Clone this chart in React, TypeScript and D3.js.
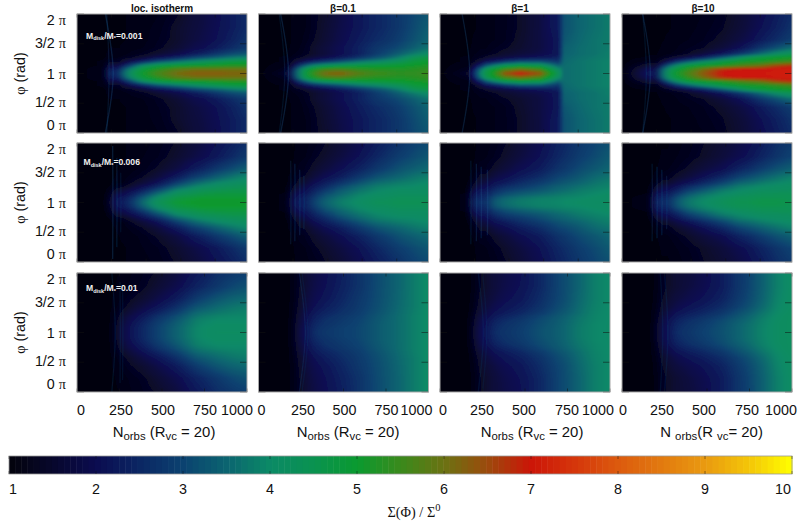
import React, { useMemo } from "react";
import * as d3 from "d3";

// ---- data -----------------------------------------------------------------
const titles = ["loc. isotherm", "β=0.1", "β=1", "β=10"];
const massLabels = ["0.001", "0.006", "0.01"];
const xTicks = [0, 250, 500, 750, 1000];
const yTicks = [2, 1.5, 1, 0.5, 0];
const yTickLabels = ["2 π", "3/2 π", "1 π", "1/2 π", "0 π"];
const cbTicks = [1, 2, 3, 4, 5, 6, 7, 8, 9, 10];
const cbValues = [1, 1.5, 2, 2.5, 3, 3.5, 4, 4.5, 5, 5.5, 6, 6.5, 7, 7.5, 8, 8.5, 9, 9.5, 10];
const cbColors = ["#03030c", "#07072c", "#0b0c50", "#0b2663", "#0b4270", "#0b6470", "#0b8a66", "#0a9250", "#0a9a30", "#3a8a1c", "#6b7212", "#9c4a0c", "#cc1508", "#d5360b", "#dc5a0e", "#e27a0f", "#e99a10", "#f4c508", "#ffff00"];

// N (orbits) columns of the grids: upper two rows run to 1230, lower row to 1000
const colsUpper = [0, 203, 246, 289, 333, 391, 470, 579, 724, 854, 897, 1013, 1121, 1230];
const colsLower = [0, 165, 200, 235, 270, 318, 382, 471, 588, 694, 729, 824, 912, 1000];
// |phi - pi| in units of pi, the maps are mirror-symmetric about phi = pi
const rowsOffset = [0, 0.07, 0.13, 0.2, 0.27, 0.33, 0.43, 0.57, 0.77, 1];

const p11 = [
  [1, 1.2, 2.8, 2.3, 3.4, 4.3, 5, 5.6, 6.1, 6.3, 6.3, 6.3, 6.2, 6.2],
  [1, 1.2, 2.5, 2.1, 3.1, 4, 4.8, 5.3, 5.8, 6, 6, 6, 6, 6],
  [1, 1.1, 2, 1.7, 2.3, 3.1, 4.1, 4.7, 5, 5.1, 5.1, 5.2, 5.3, 5.3],
  [1, 1.1, 1.5, 1.3, 1.6, 2, 2.5, 3.2, 3.7, 4.1, 4.2, 4.5, 4.7, 4.8],
  [1, 1.05, 1.25, 1.15, 1.3, 1.4, 1.6, 2, 2.5, 3, 3.1, 3.4, 3.7, 3.9],
  [1, 1.05, 1.15, 1.1, 1.15, 1.25, 1.35, 1.55, 1.9, 2.3, 2.4, 2.8, 3.1, 3.3],
  [1, 1, 1.1, 1.05, 1.1, 1.15, 1.2, 1.35, 1.6, 1.95, 2, 2.3, 2.6, 2.85],
  [1, 1, 1.05, 1.05, 1.05, 1.1, 1.15, 1.3, 1.5, 1.8, 1.85, 2.1, 2.4, 2.7],
  [1, 1, 1.05, 1.05, 1.05, 1.1, 1.15, 1.25, 1.5, 1.75, 1.8, 2.05, 2.3, 2.6],
  [1, 1, 1.05, 1.05, 1.05, 1.1, 1.1, 1.2, 1.4, 1.7, 1.75, 2, 2.3, 2.6],
];
const p12 = [
  [1, 1.5, 2.6, 3.8, 4.8, 5.4, 6.1, 6.3, 5.8, 5.5, 5.5, 5.4, 5.4, 5.5],
  [1, 1.3, 2.4, 3.6, 4.6, 5.1, 5.6, 5.7, 5.4, 5.3, 5.3, 5.2, 5.3, 5.4],
  [1, 1.2, 1.9, 2.7, 3.4, 4, 4.4, 4.6, 4.8, 4.9, 4.9, 5, 5.1, 5.2],
  [1, 1.1, 1.5, 1.8, 2.1, 2.5, 2.8, 3.2, 3.7, 4, 4.1, 4.4, 4.8, 5],
  [1, 1.1, 1.3, 1.4, 1.5, 1.7, 1.9, 2.2, 2.7, 3.2, 3.3, 3.8, 4.4, 4.7],
  [1, 1.05, 1.2, 1.25, 1.35, 1.5, 1.7, 2, 2.4, 2.9, 3, 3.4, 3.8, 4.1],
  [1, 1.05, 1.1, 1.2, 1.3, 1.5, 1.7, 2, 2.4, 2.8, 2.85, 3.1, 3.4, 3.7],
  [1, 1, 1.1, 1.15, 1.25, 1.4, 1.6, 1.9, 2.3, 2.6, 2.65, 2.9, 3.2, 3.5],
  [1, 1, 1.1, 1.15, 1.2, 1.35, 1.55, 1.85, 2.2, 2.5, 2.55, 2.8, 3.1, 3.4],
  [1, 1, 1.1, 1.15, 1.2, 1.35, 1.5, 1.8, 2.2, 2.5, 2.55, 2.8, 3.05, 3.3],
];
const p13 = [
  [1, 1.5, 2.7, 3.8, 4.6, 5.3, 6.4, 7, 6.4, 4.4, 3.6, 3.7, 3.8, 3.9],
  [1, 1.3, 2.4, 3.5, 4.4, 5, 5.6, 6, 5.6, 4.1, 3.6, 3.7, 3.8, 3.9],
  [1, 1.2, 1.9, 2.5, 3.3, 3.9, 4.5, 4.8, 4.6, 3.5, 3.6, 3.7, 3.8, 3.9],
  [1, 1.1, 1.4, 1.7, 2.1, 2.4, 2.8, 3.2, 3.2, 2.8, 3.55, 3.7, 3.8, 3.9],
  [1, 1.1, 1.25, 1.35, 1.5, 1.65, 1.8, 2, 2.2, 2.4, 3.5, 3.65, 3.75, 3.85],
  [1, 1.05, 1.2, 1.25, 1.3, 1.4, 1.55, 1.7, 1.9, 2.2, 3.45, 3.6, 3.7, 3.85],
  [1, 1.05, 1.1, 1.2, 1.2, 1.3, 1.4, 1.55, 1.8, 2.2, 3.4, 3.6, 3.7, 3.8],
  [1, 1, 1.1, 1.1, 1.15, 1.2, 1.3, 1.5, 1.8, 2.2, 3.3, 3.55, 3.7, 3.8],
  [1, 1, 1.05, 1.1, 1.15, 1.2, 1.3, 1.45, 1.8, 2.3, 3.2, 3.5, 3.65, 3.8],
  [1, 1, 1.05, 1.1, 1.15, 1.2, 1.3, 1.45, 1.8, 2.3, 3.2, 3.5, 3.65, 3.8],
];
const p14 = [
  [1, 2.3, 1.9, 3.4, 4.4, 5, 5.6, 6.3, 7, 7.1, 7.1, 7.1, 7.1, 7.1],
  [1, 2.1, 1.8, 3.2, 4.2, 4.8, 5.3, 6, 6.8, 7, 7, 7, 7.1, 7.1],
  [1, 1.7, 1.5, 2.4, 3.3, 4.1, 4.8, 5.1, 5.3, 5.7, 5.8, 6.1, 6.6, 6.8],
  [1, 1.3, 1.2, 1.6, 2, 2.7, 3.3, 4, 4.7, 5, 5.1, 5.2, 5.4, 5.6],
  [1, 1.1, 1.1, 1.25, 1.4, 1.6, 1.9, 2.4, 3.3, 4.1, 4.4, 4.8, 5, 5.1],
  [1, 1.05, 1.05, 1.15, 1.2, 1.25, 1.4, 1.7, 2.2, 2.8, 3, 3.6, 4.1, 4.4],
  [1, 1, 1, 1.1, 1.1, 1.2, 1.3, 1.4, 1.7, 2.1, 2.3, 2.8, 3.2, 3.6],
  [1, 1, 1, 1.05, 1.1, 1.15, 1.2, 1.3, 1.5, 1.8, 1.9, 2.3, 2.6, 2.9],
  [1, 1, 1, 1.05, 1.05, 1.1, 1.15, 1.25, 1.4, 1.65, 1.75, 2.1, 2.4, 2.7],
  [1, 1, 1, 1.05, 1.05, 1.1, 1.15, 1.2, 1.35, 1.6, 1.7, 2, 2.3, 2.6],
];
const p21 = [
  [1, 1, 1.6, 2.2, 2.3, 2.7, 3.5, 4.3, 4.9, 5.1, 5.1, 5.1, 5.1, 5],
  [1, 1, 1.5, 2.1, 2.2, 2.6, 3.3, 4.1, 4.7, 4.9, 5, 5, 5, 5],
  [1, 1, 1.4, 1.9, 2, 2.3, 2.9, 3.7, 4.4, 4.6, 4.7, 4.8, 4.8, 4.8],
  [1, 1, 1.25, 1.6, 1.7, 2, 2.4, 3.1, 4, 4.3, 4.4, 4.5, 4.6, 4.6],
  [1, 1, 1.1, 1.3, 1.4, 1.6, 2, 2.5, 3.4, 3.9, 4, 4.2, 4.3, 4.4],
  [1, 1, 1.05, 1.2, 1.2, 1.4, 1.65, 2.1, 2.9, 3.5, 3.65, 3.95, 4.1, 4.2],
  [1, 1, 1, 1.1, 1.15, 1.25, 1.4, 1.7, 2.3, 2.9, 3, 3.4, 3.7, 3.95],
  [1, 1, 1, 1.05, 1.1, 1.15, 1.25, 1.45, 1.8, 2.3, 2.4, 2.8, 3.1, 3.4],
  [1, 1, 1, 1.05, 1.05, 1.1, 1.2, 1.3, 1.55, 1.85, 1.95, 2.25, 2.55, 2.85],
  [1, 1, 1, 1.05, 1.05, 1.1, 1.15, 1.25, 1.45, 1.7, 1.8, 2.1, 2.35, 2.65],
];
const p22 = [
  [1, 1.1, 2, 2.4, 2.3, 2.9, 3.4, 3.8, 4.1, 4.3, 4.3, 4.4, 4.4, 4.4],
  [1, 1.1, 1.9, 2.3, 2.3, 2.8, 3.3, 3.7, 4, 4.2, 4.2, 4.3, 4.3, 4.3],
  [1, 1.1, 1.8, 2.1, 2.2, 2.6, 3.1, 3.5, 3.9, 4.1, 4.1, 4.2, 4.2, 4.2],
  [1, 1.05, 1.6, 1.9, 2, 2.4, 2.8, 3.3, 3.7, 3.95, 4, 4.1, 4.1, 4.15],
  [1, 1.05, 1.4, 1.7, 1.8, 2.2, 2.5, 3, 3.5, 3.8, 3.85, 3.95, 4, 4.1],
  [1, 1, 1.3, 1.5, 1.6, 2, 2.3, 2.7, 3.2, 3.6, 3.65, 3.8, 3.9, 4],
  [1, 1, 1.2, 1.4, 1.45, 1.7, 2, 2.3, 2.8, 3.2, 3.3, 3.5, 3.7, 3.85],
  [1, 1, 1.1, 1.25, 1.3, 1.5, 1.7, 2, 2.4, 2.8, 2.9, 3.2, 3.4, 3.55],
  [1, 1, 1.05, 1.15, 1.2, 1.35, 1.5, 1.75, 2.1, 2.5, 2.6, 2.9, 3.1, 3.3],
  [1, 1, 1.05, 1.1, 1.15, 1.25, 1.4, 1.6, 1.95, 2.3, 2.4, 2.7, 2.95, 3.1],
];
const p23 = [
  [1, 1.1, 2.5, 2.7, 2.6, 3.3, 3.6, 3.8, 3.9, 3.95, 4, 4.05, 4.1, 4.1],
  [1, 1.1, 2.4, 2.6, 2.5, 3.2, 3.5, 3.7, 3.85, 3.9, 3.95, 4, 4.05, 4.1],
  [1, 1.1, 2.2, 2.4, 2.4, 2.9, 3.2, 3.4, 3.6, 3.75, 3.8, 3.9, 4, 4.05],
  [1, 1.05, 1.9, 2.2, 2.2, 2.6, 2.9, 3.1, 3.3, 3.55, 3.6, 3.8, 3.9, 4],
  [1, 1.05, 1.6, 1.9, 2, 2.3, 2.6, 2.8, 3.1, 3.4, 3.45, 3.65, 3.8, 3.9],
  [1, 1, 1.4, 1.7, 1.8, 2.1, 2.3, 2.6, 2.9, 3.2, 3.3, 3.5, 3.7, 3.85],
  [1, 1, 1.2, 1.5, 1.5, 1.8, 2, 2.3, 2.6, 3, 3.05, 3.3, 3.55, 3.7],
  [1, 1, 1.1, 1.3, 1.3, 1.5, 1.7, 2, 2.3, 2.7, 2.8, 3.1, 3.3, 3.5],
  [1, 1, 1.05, 1.15, 1.2, 1.3, 1.5, 1.75, 2.1, 2.5, 2.6, 2.9, 3.1, 3.35],
  [1, 1, 1.05, 1.1, 1.15, 1.25, 1.4, 1.65, 2, 2.4, 2.5, 2.8, 3, 3.2],
];
const p24 = [
  [1, 1.2, 2.4, 2.6, 2.6, 3.2, 3.7, 4, 4.3, 4.5, 4.5, 4.6, 4.6, 4.5],
  [1, 1.2, 2.3, 2.5, 2.5, 3.1, 3.6, 3.9, 4.2, 4.4, 4.4, 4.5, 4.5, 4.45],
  [1, 1.1, 2.1, 2.3, 2.3, 2.8, 3.3, 3.7, 4, 4.2, 4.25, 4.35, 4.4, 4.4],
  [1, 1.05, 1.8, 2, 2.1, 2.4, 2.9, 3.3, 3.8, 4, 4.05, 4.2, 4.2, 4.25],
  [1, 1.05, 1.5, 1.8, 1.8, 2.1, 2.5, 2.9, 3.4, 3.8, 3.85, 4, 4.1, 4.15],
  [1, 1, 1.3, 1.5, 1.55, 1.8, 2.1, 2.5, 3, 3.5, 3.55, 3.8, 3.95, 4.05],
  [1, 1, 1.15, 1.3, 1.3, 1.5, 1.7, 2.05, 2.5, 3, 3.1, 3.4, 3.65, 3.85],
  [1, 1, 1.05, 1.15, 1.2, 1.3, 1.45, 1.7, 2, 2.45, 2.55, 2.9, 3.2, 3.4],
  [1, 1, 1, 1.1, 1.1, 1.2, 1.3, 1.45, 1.7, 2, 2.1, 2.45, 2.75, 3],
  [1, 1, 1, 1.05, 1.05, 1.15, 1.25, 1.4, 1.6, 1.85, 1.95, 2.3, 2.6, 2.85],
];
const p31 = [
  [1, 1, 1.05, 1.5, 1.8, 2.15, 2.5, 2.95, 3.45, 3.9, 4, 4.1, 4.1, 4.1],
  [1, 1, 1.05, 1.5, 1.8, 2.15, 2.5, 2.95, 3.45, 3.9, 4, 4.08, 4.08, 4.08],
  [1, 1, 1.05, 1.45, 1.75, 2.1, 2.45, 2.9, 3.4, 3.85, 3.95, 4.05, 4.05, 4.05],
  [1, 1, 1.05, 1.4, 1.7, 2, 2.35, 2.8, 3.3, 3.8, 3.9, 4, 4, 4],
  [1, 1, 1.05, 1.35, 1.6, 1.9, 2.2, 2.65, 3.15, 3.65, 3.75, 3.9, 3.95, 3.95],
  [1, 1, 1.05, 1.3, 1.5, 1.75, 2.05, 2.45, 2.95, 3.5, 3.6, 3.75, 3.85, 3.9],
  [1, 1, 1.05, 1.2, 1.35, 1.55, 1.8, 2.15, 2.65, 3.2, 3.3, 3.55, 3.7, 3.8],
  [1, 1, 1.05, 1.15, 1.25, 1.4, 1.55, 1.85, 2.3, 2.8, 2.95, 3.25, 3.45, 3.55],
  [1, 1, 1, 1.1, 1.15, 1.25, 1.35, 1.6, 1.95, 2.4, 2.5, 2.8, 3.05, 3.2],
  [1, 1, 1, 1.05, 1.1, 1.2, 1.3, 1.45, 1.75, 2.2, 2.3, 2.6, 2.8, 2.95],
];
const p32 = [
  [1, 1, 1.2, 1.8, 2, 2.6, 2.8, 2.9, 3.05, 3.3, 3.4, 3.6, 3.85, 4.05],
  [1, 1, 1.2, 1.8, 2, 2.55, 2.75, 2.9, 3.05, 3.3, 3.4, 3.6, 3.85, 4.05],
  [1, 1, 1.2, 1.75, 1.95, 2.5, 2.7, 2.85, 3.03, 3.3, 3.4, 3.6, 3.85, 4.05],
  [1, 1, 1.2, 1.7, 1.9, 2.4, 2.65, 2.8, 3, 3.28, 3.38, 3.6, 3.85, 4.05],
  [1, 1, 1.15, 1.65, 1.85, 2.3, 2.55, 2.75, 2.95, 3.25, 3.35, 3.6, 3.85, 4.05],
  [1, 1, 1.15, 1.6, 1.8, 2.2, 2.45, 2.65, 2.9, 3.2, 3.3, 3.58, 3.83, 4.05],
  [1, 1, 1.15, 1.5, 1.7, 2.05, 2.3, 2.55, 2.85, 3.15, 3.25, 3.55, 3.8, 4.05],
  [1, 1, 1.1, 1.45, 1.65, 1.95, 2.15, 2.45, 2.8, 3.12, 3.22, 3.52, 3.8, 4.05],
  [1, 1, 1.1, 1.4, 1.6, 1.85, 2.05, 2.35, 2.72, 3.1, 3.2, 3.5, 3.8, 4.05],
  [1, 1, 1.1, 1.4, 1.6, 1.8, 2, 2.3, 2.7, 3.1, 3.2, 3.5, 3.8, 4.05],
];
const p33 = [
  [1, 1, 1.5, 2, 2.1, 2.6, 2.75, 2.9, 3.2, 3.4, 3.5, 3.8, 3.95, 4],
  [1, 1, 1.5, 2, 2.1, 2.55, 2.72, 2.88, 3.18, 3.4, 3.5, 3.8, 3.95, 4],
  [1, 1, 1.45, 1.95, 2.05, 2.5, 2.68, 2.85, 3.15, 3.38, 3.48, 3.78, 3.95, 4],
  [1, 1, 1.4, 1.9, 2, 2.4, 2.6, 2.78, 3.1, 3.35, 3.45, 3.75, 3.93, 4],
  [1, 1, 1.35, 1.8, 1.9, 2.25, 2.45, 2.65, 3, 3.3, 3.4, 3.7, 3.92, 4],
  [1, 1, 1.3, 1.7, 1.8, 2.1, 2.3, 2.5, 2.85, 3.2, 3.3, 3.65, 3.9, 4],
  [1, 1, 1.2, 1.6, 1.7, 1.95, 2.15, 2.35, 2.7, 3.1, 3.2, 3.6, 3.88, 4],
  [1, 1, 1.15, 1.5, 1.6, 1.8, 2, 2.2, 2.6, 3.02, 3.12, 3.55, 3.85, 4],
  [1, 1, 1.1, 1.4, 1.5, 1.7, 1.9, 2.1, 2.5, 3, 3.1, 3.5, 3.85, 4],
  [1, 1, 1.1, 1.4, 1.5, 1.7, 1.85, 2.05, 2.5, 3, 3.1, 3.5, 3.85, 4],
];
const p34 = [
  [1, 1, 1.3, 1.9, 2.1, 2.6, 2.75, 2.95, 3.2, 3.5, 3.6, 3.9, 4.1, 4.2],
  [1, 1, 1.3, 1.9, 2.1, 2.55, 2.72, 2.92, 3.18, 3.5, 3.6, 3.9, 4.1, 4.2],
  [1, 1, 1.3, 1.85, 2.05, 2.5, 2.68, 2.88, 3.15, 3.48, 3.58, 3.88, 4.1, 4.2],
  [1, 1, 1.25, 1.8, 2, 2.4, 2.6, 2.8, 3.1, 3.42, 3.52, 3.85, 4.08, 4.2],
  [1, 1, 1.2, 1.7, 1.9, 2.25, 2.45, 2.65, 2.95, 3.3, 3.42, 3.78, 4.05, 4.2],
  [1, 1, 1.2, 1.6, 1.8, 2.1, 2.3, 2.5, 2.8, 3.2, 3.3, 3.7, 4, 4.18],
  [1, 1, 1.15, 1.5, 1.65, 1.9, 2.1, 2.3, 2.6, 3, 3.12, 3.55, 3.95, 4.15],
  [1, 1, 1.1, 1.4, 1.55, 1.75, 1.9, 2.1, 2.42, 2.88, 3, 3.45, 3.9, 4.12],
  [1, 1, 1.1, 1.35, 1.45, 1.6, 1.75, 1.95, 2.3, 2.8, 2.92, 3.4, 3.85, 4.1],
  [1, 1, 1.1, 1.35, 1.45, 1.6, 1.7, 1.9, 2.3, 2.8, 2.9, 3.4, 3.85, 4.1],
];
const panelGrids = [[p11, p12, p13, p14], [p21, p22, p23, p24], [p31, p32, p33, p34]];

// faint wave fronts: [N at mid-plane, N at the ends, half extent in pi, opacity]
const wavesS1 = [[262, 205, 1, 0.3], [232, 215, 1, 0.2]];
const wavesS2 = [[217, 160, 1, 0.3], [190, 150, 1, 0.18]];
const wavesS3 = [[215, 160, 1, 0.28]];
const wavesS4 = [[205, 150, 1, 0.28], [176, 150, 1, 0.18]];
const wavesM1 = [[260, 258, 0.95, 0.3], [290, 288, 0.75, 0.25], [318, 316, 0.5, 0.15]];
const wavesM2 = [[235, 233, 0.7, 0.2], [265, 263, 0.65, 0.25], [300, 298, 0.55, 0.25], [330, 328, 0.45, 0.2]];
const wavesM3 = [[225, 223, 0.7, 0.2], [265, 263, 0.65, 0.25], [300, 298, 0.6, 0.25], [345, 343, 0.55, 0.25]];
const wavesM4 = [[220, 218, 0.65, 0.2], [255, 253, 0.6, 0.25], [290, 288, 0.55, 0.25], [325, 323, 0.45, 0.2]];
const wavesL1 = [[225, 205, 1, 0.18], [255, 253, 0.85, 0.15], [270, 268, 0.8, 0.15]];
const wavesL2 = [[275, 240, 1, 0.2], [290, 255, 1, 0.12]];
const wavesL3 = [[255, 225, 1, 0.15], [275, 250, 1, 0.12]];
const wavesL4 = [[240, 225, 1, 0.15], [270, 250, 1, 0.15]];
const panelWaves = [
  [wavesS1, wavesS2, wavesS3, wavesS4],
  [wavesM1, wavesM2, wavesM3, wavesM4],
  [wavesL1, wavesL2, wavesL3, wavesL4],
];

// ---- layout ----------------------------------------------------------------
const W = 806, H = 529;
const panelLeft = [77, 258.5, 440, 622];
const panelTop = [14, 143, 273];
const panelW = 170, panelH = 119;
const titleCenters = [162, 343, 520, 703];
const sansFont = "'Liberation Sans', Arimo, Helvetica, sans-serif";
const serifFont = "'Liberation Serif', 'DejaVu Serif', serif";
const tickNudge = [[4, 1.5, 1, 0.5, -10], [3, 2, 1, 0.5, -12], [3, -0.5, -1, -0.5, -12], [1, -2.5, -3, -2.5, -11]];
const yNudge = [6, -1, 0, -1, -8];
const annotPos = [[86, 38.5], [83.5, 165], [86, 291]];

const colorScale = d3.scaleLinear<string>().domain(cbValues).range(cbColors).interpolate(d3.interpolateRgb).clamp(true);
const N_LEVELS = 256;
const level = d3.scaleQuantize<number>().domain([1, 10]).range(d3.range(N_LEVELS));
const levelColor = (l: number) => colorScale(1 + ((l + 0.5) / N_LEVELS) * 9);

function usePaths(grid: number[][], cols: number[], maxN: number) {
  return useMemo(() => {
    const pad = 10;
    const colIdx = d3.scaleLinear().domain(cols).range(d3.range(cols.length)).clamp(true);
    const rowIdx = d3.scaleLinear().domain(rowsOffset).range(d3.range(rowsOffset.length)).clamp(true);
    const xN = d3.scaleLinear().domain([0, panelW]).range([0, maxN]);
    const yPhi = d3.scaleLinear().domain([0, panelH]).range([2, 0]);
    const paths: Map<number, string> = new Map();
    for (let py = -pad; py < panelH + pad; py++) {
      const off = Math.abs(yPhi(py + 0.5) - 1);
      const rf = rowIdx(off);
      const r0 = Math.min(Math.floor(rf), rowsOffset.length - 2);
      const rt = rf - r0;
      let runStart = -pad, runLevel = -1;
      for (let px = -pad; px <= panelW + pad; px++) {
        let l = -2;
        if (px < panelW + pad) {
          const cf = colIdx(xN(px + 0.5));
          const c0 = Math.min(Math.floor(cf), cols.length - 2);
          const ct = cf - c0;
          const a = grid[r0][c0] * (1 - ct) + grid[r0][c0 + 1] * ct;
          const b = grid[r0 + 1][c0] * (1 - ct) + grid[r0 + 1][c0 + 1] * ct;
          l = level(a * (1 - rt) + b * rt);
        }
        if (l !== runLevel) {
          if (runLevel >= 0) {
            paths.set(runLevel, (paths.get(runLevel) || "") + `M${runStart} ${py}H${px}V${py + 1}H${runStart}Z`);
          }
          runStart = px;
          runLevel = l;
        }
      }
    }
    return Array.from(paths.entries());
  }, [grid, cols, maxN]);
}

function Panel({ r, c }: { r: number; c: number }) {
  const cols = r === 2 ? colsLower : colsUpper;
  const maxN = r === 2 ? 1000 : 1230;
  const paths = usePaths(panelGrids[r][c], cols, maxN);
  const x = d3.scaleLinear().domain([0, maxN]).range([0, panelW]);
  const y = d3.scaleLinear().domain([0, 2]).range([panelH, 0]);
  const waveLine = d3.line<[number, number]>().x((d) => x(d[0])).y((d) => y(d[1])).curve(d3.curveNatural);
  const id = `clip-${r}-${c}`;
  const xt = xTicks.filter((v) => v <= maxN);
  return (
    <g transform={`translate(${panelLeft[c]},${panelTop[r]})`}>
      <clipPath id={id}><rect width={panelW} height={panelH} /></clipPath>
      <g clipPath={`url(#${id})`}>
        <g filter={r === 0 && c === 2 ? "url(#softEdge)" : "url(#soft)"}>
          {paths.map(([l, d]) => (
            <path key={l} d={d} fill={levelColor(l)} shapeRendering="crispEdges" />
          ))}
        </g>
        <g filter="url(#soft2)">
          {panelWaves[r][c].map((w, i) => (
            <path
              key={i}
              d={waveLine([[w[1], 1 + w[2]], [w[0], 1], [w[1], 1 - w[2]]]) || ""}
              fill="none"
              stroke="#1d5c96"
              strokeWidth={1.3}
              strokeOpacity={w[3]}
            />
          ))}
        </g>
      </g>
      {xt.map((v) => (
        <g key={v} stroke="#111" strokeOpacity={0.65} strokeWidth={0.8}>
          <line x1={x(v)} x2={x(v)} y1={0} y2={3.5} />
          <line x1={x(v)} x2={x(v)} y1={panelH} y2={panelH - 3.5} />
        </g>
      ))}
      {yTicks.map((v) => (
        <g key={v} stroke="#111" strokeOpacity={0.65} strokeWidth={0.8}>
          <line x1={panelW} x2={panelW - 7} y1={y(v)} y2={y(v)} />
          <line x1={0} x2={7} y1={y(v)} y2={y(v)} />
        </g>
      ))}
      <rect width={panelW} height={panelH} fill="none" stroke="#a8a8a8" strokeWidth={1} />
      {r === 2 &&
        xTicks.map((v, i) => (
          <text key={v} x={x(v) + tickNudge[c][i]} y={142} textAnchor="middle" fontFamily={sansFont} fontSize={14.3} fill="#111">
            {v}
          </text>
        ))}
    </g>
  );
}

function XTitle({ cx, tight }: { cx: number; tight?: boolean }) {
  return (
    <text x={cx} y={437} textAnchor="middle" fontFamily={sansFont} fontSize={14.9} fill="#111">
      {tight ? "N " : "N"}
      <tspan fontSize={11.4} dy={3}>orbs</tspan>
      <tspan dy={-3}>{tight ? "(R " : " (R"}</tspan>
      <tspan fontSize={11.4} dy={3}>vc</tspan>
      <tspan dy={-3}>{tight ? "= 20)" : " = 20)"}</tspan>
    </text>
  );
}

export default function App() {
  const cb = d3.scaleLinear().domain([1, 10]).range([9, 792]);
  const cbBands = d3.range(1, 10, 9 / 128);
  const cbY = 456, cbH = 18;
  return (
    <svg
      width={W}
      height={H}
      viewBox={`0 0 ${W} ${H}`}
      style={{ position: "absolute", left: 0, top: 0, background: "#fff", display: "block" }}
    >
      <defs>
        <filter id="soft" x="-8%" y="-12%" width="116%" height="124%">
          <feGaussianBlur stdDeviation="3 1.3" />
        </filter>
        <filter id="softEdge" x="-8%" y="-12%" width="116%" height="124%">
          <feGaussianBlur stdDeviation="1.2 1.3" />
        </filter>
        <filter id="soft2" x="-5%" y="-5%" width="110%" height="110%">
          <feGaussianBlur stdDeviation="0.7" />
        </filter>
      </defs>

      {titles.map((t, c) => (
        <text key={t} x={titleCenters[c]} y={11.5} textAnchor="middle" fontFamily={sansFont} fontWeight="bold" fontSize={10} fill="#111">
          {t}
        </text>
      ))}

      {panelTop.map((top, r) => (
        <g key={r}>
          {panelLeft.map((_, c) => (
            <Panel key={c} r={r} c={c} />
          ))}
          {yTicks.map((v, i) => {
            const y = d3.scaleLinear().domain([0, 2]).range([top + panelH, top]);
            const head = yTickLabels[i].slice(0, -1);
            return (
              <text key={v} x={66} y={y(v) + yNudge[i] + 5} textAnchor="end" fontFamily={sansFont} fontSize={14.3} fill="#111">
                {head}
                <tspan fontFamily={serifFont}>π</tspan>
              </text>
            );
          })}
          <text transform={`translate(25,${top + panelH / 2}) rotate(-90)`} textAnchor="middle" fontFamily={sansFont} fontSize={14.3} fill="#111">
            <tspan fontFamily={serifFont}>φ</tspan> (rad)
          </text>
          <text x={annotPos[r][0]} y={annotPos[r][1]} fontFamily={sansFont} fontWeight="bold" fontSize={8.6} fill="#f0f0f0">
            M<tspan fontSize={5.5} dy={1.5}>disk</tspan>
            <tspan dy={-1.5}>/M</tspan>
            <tspan fontSize={5.5} dy={1.5}>*</tspan>
            <tspan dy={-1.5}>={massLabels[r]}</tspan>
          </text>
        </g>
      ))}

      <XTitle cx={164} />
      <XTitle cx={348} />
      <XTitle cx={532} />
      <XTitle cx={711.5} tight />

      <g>
        {cbBands.map((v) => (
          <rect key={v} x={cb(v)} y={cbY} width={cb(v + 9 / 128) - cb(v) + 0.5} height={cbH} fill={colorScale(v + 4.5 / 128)} />
        ))}
        <rect x={9} y={cbY} width={783} height={cbH} fill="none" stroke="#999" strokeWidth={0.8} />
        {cbTicks.map((v) => (
          <g key={v} stroke="#111" strokeOpacity={0.55} strokeWidth={0.8}>
            <line x1={cb(v)} x2={cb(v)} y1={cbY} y2={cbY + 3} />
            <line x1={cb(v)} x2={cb(v)} y1={cbY + cbH} y2={cbY + cbH - 3} />
          </g>
        ))}
        {cbTicks.map((v) => (
          <text key={v} x={cb(v) + (v === 1 ? 4 : v === 10 ? -9 : 0)} y={494} textAnchor="middle" fontFamily={sansFont} fontSize={14.3} fill="#111">
            {v}
          </text>
        ))}
      </g>
      <text x={414} y={517} textAnchor="middle" fontFamily={serifFont} fontSize={14.3} fill="#111">
        Σ(Φ) / Σ<tspan fontSize={10.5} dy={-6}>0</tspan>
      </text>
    </svg>
  );
}
